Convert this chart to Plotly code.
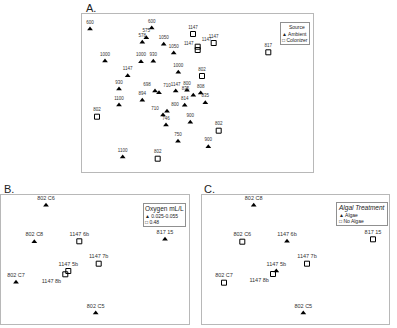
import plotly.graph_objects as go

W, H = 397, 328

# ---------------- Panel A data (ordination scores) ----------------
a_amb_x = [90, 151.7, 146.3, 142.3, 163.7, 173.7, 105, 141, 153.3, 127.7, 178.3,
           119, 155, 159, 175.7, 187, 193.3, 200.7, 205.3, 142.3, 119, 184.7,
           167, 163, 166, 190.3, 178, 208.3, 122.7]
a_amb_y = [29, 28, 37.7, 42.3, 44.3, 53, 61, 61.7, 61.3, 75.7, 72.3,
           89, 91, 92.7, 91, 90.3, 95.3, 93, 102.7, 100.3, 105, 105.3,
           111.3, 115, 125, 122.3, 141.3, 146.7, 157]
a_amb_lab = ["600", "600", "575", "578", "1050", "1050", "1000", "1000", "930", "1147", "1000",
             "930", "698", "710", "1147", "800", "835", "808", "835", "894", "1100", "814",
             "800", "710", "746", "900", "750", "900", "1100"]

a_col_x = [193, 213.7, 197.7, 197.7, 268.3, 202, 97, 218.7, 157.7]
a_col_y = [34, 43, 46.7, 50, 52.3, 76, 116.7, 130.7, 158.7]
a_col_lab = ["1147", "1147", "1147", "1147", "817", "802", "802", "802", "802"]

# ---------------- Panel B data ----------------
b_low_x = [46, 34.3, 165, 16, 95.7]
b_low_y = [205.3, 241.7, 239.3, 282.3, 313]
b_low_lab = ["802 C6", "802 C8", "817 15", "802 C7", "802 C5"]
b_high_x = [79.3, 98.7, 68.3, 65.3]
b_high_y = [241.3, 263.7, 271, 274.3]
b_high_lab = ["1147 6b", "1147 7b", "1147 5b", "1147 8b"]

# ---------------- Panel C data ----------------
c_alg_x = [253.7, 287, 276.3, 303.3]
c_alg_y = [205.3, 241.3, 271, 313]
c_alg_lab = ["802 C8", "1147 6b", "1147 5b", "802 C5"]
c_no_x = [242.3, 373, 307, 273, 224]
c_no_y = [241.7, 239.3, 263.7, 274, 282.7]
c_no_lab = ["802 C6", "817 15", "1147 7b", "1147 8b", "802 C7"]

FONT = "Liberation Sans, Arial, sans-serif"
TXT = "#333333"

fig = go.Figure()

def add(x, y, lab, sym, xa, ya, fs, pos):
    if sym == "tri":
        m = dict(symbol="triangle-up", size=5, color="black", line=dict(width=0))
    else:
        m = dict(symbol="square-open", size=5, color="black", line=dict(width=1, color="black"))
    fig.add_trace(go.Scatter(x=x, y=y, mode="markers+text", text=lab, textposition=pos,
                             textfont=dict(size=fs, color=TXT, family=FONT),
                             marker=m, xaxis=xa, yaxis=ya, showlegend=False,
                             cliponaxis=False))

amb_pos = ["top center"] * len(a_amb_x)
amb_pos[12] = "top left"    # 698
amb_pos[13] = "top right"   # 710
amb_pos[22] = "top right"   # 800
amb_pos[23] = "top left"    # 710
amb_pos[16] = "top left"    # 835
col_pos = ["top center"] * len(a_col_x)
col_pos[2] = "top right"
col_pos[3] = "top left"

add(a_amb_x, a_amb_y, a_amb_lab, "tri", "x", "y", 4.5, amb_pos)
add(a_col_x, a_col_y, a_col_lab, "sq", "x", "y", 4.5, col_pos)
add(b_low_x, b_low_y, b_low_lab, "tri", "x2", "y2", 5.5, "top center")
add(b_high_x, b_high_y, b_high_lab, "sq", "x2", "y2", 5.5,
    ["top center", "top center", "top center", "bottom left"])
add(c_alg_x, c_alg_y, c_alg_lab, "tri", "x3", "y3", 5.5, "top center")
add(c_no_x, c_no_y, c_no_lab, "sq", "x3", "y3", 5.5,
    ["top center", "top center", "top center", "bottom left", "top center"])

def px(v):
    return v / W

def py(v):
    return 1 - v / H

ax = dict(showline=True, mirror=True, linecolor="#b8b8b8", linewidth=1, showgrid=False,
          zeroline=False, showticklabels=False, ticks="")

fig.update_layout(
    width=W, height=H, margin=dict(l=0, r=0, t=0, b=0),
    paper_bgcolor="white", plot_bgcolor="white", showlegend=False,
    font=dict(family=FONT, color=TXT),
    xaxis=dict(ax, domain=[px(82), px(313)], range=[82, 313]),
    yaxis=dict(ax, domain=[py(172), py(14)], range=[172, 14]),
    xaxis2=dict(ax, domain=[px(1), px(189)], range=[1, 189], anchor="y2"),
    yaxis2=dict(ax, domain=[py(324), py(195)], range=[324, 195], anchor="x2"),
    xaxis3=dict(ax, domain=[px(202), px(389)], range=[202, 389], anchor="y3"),
    yaxis3=dict(ax, domain=[py(324), py(195)], range=[324, 195], anchor="x3"),
)

ann = []
for t, x0, y0 in [("A.", 84, 0), ("B.", 2, 181), ("C.", 202, 181)]:
    ann.append(dict(text=t, x=px(x0), y=py(y0), xref="paper", yref="paper",
                    xanchor="left", yanchor="top", showarrow=False,
                    font=dict(size=11, color="#222", family=FONT)))

def legend_box(title, items, xr, yt, tsize, isize):
    txt = f"<span style='font-size:{tsize}px'>{title}</span>"
    for it in items:
        txt += f"<br><span style='font-size:{isize}px'>{it}</span>"
    ann.append(dict(text=txt, x=px(xr), y=py(yt), xref="paper", yref="paper",
                    xanchor="right", yanchor="top", showarrow=False, align="left",
                    bordercolor="#909090", borderwidth=1, borderpad=1, bgcolor="white",
                    font=dict(size=isize, color="#222", family=FONT)))

legend_box("&nbsp;&nbsp;&nbsp;&nbsp;&nbsp;Source", ["▲ Ambient", "□ Colonizer"], 310, 22, 5, 5)
legend_box("Oxygen mL/L", ["▲ 0.025-0.055", "□ 0.48"], 186, 203, 6.5, 5)
legend_box("<i>Algal Treatment</i>", ["▲ Algae", "□ No Algae"], 388, 202, 6.5, 5)

fig.update_layout(annotations=ann)
fig.write_html("out.html")
